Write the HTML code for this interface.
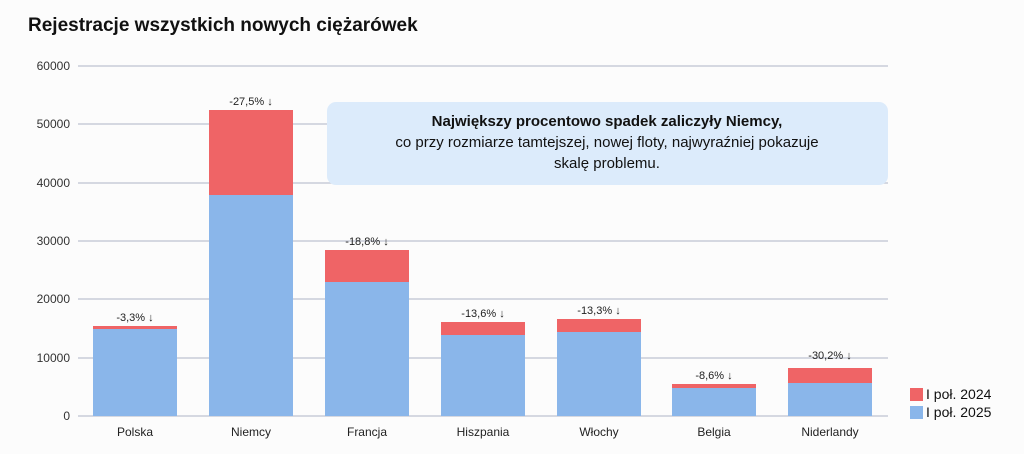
<!DOCTYPE html>
<html><head><meta charset="utf-8"><style>
body{margin:0;background:#fcfcfc;}
svg{display:block;font-family:"Liberation Sans",sans-serif;}
</style></head><body>
<svg width="1024" height="454" viewBox="0 0 1024 454">
<rect width="1024" height="454" fill="#fcfcfc"/>
<text x="28" y="31" font-size="19" font-weight="bold" fill="#111">Rejestracje wszystkich nowych ciężarówek</text>
<g stroke="#c8ccd8" stroke-width="1.5">
<line x1="78" y1="66" x2="888" y2="66"/><line x1="78" y1="124" x2="888" y2="124"/><line x1="78" y1="183" x2="888" y2="183"/><line x1="78" y1="241" x2="888" y2="241"/><line x1="78" y1="299" x2="888" y2="299"/><line x1="78" y1="358" x2="888" y2="358"/><line x1="78" y1="416" x2="888" y2="416"/>
</g>
<g font-size="12" fill="#333" text-anchor="end">
<text x="70" y="70">60000</text><text x="70" y="128">50000</text><text x="70" y="187">40000</text><text x="70" y="245">30000</text><text x="70" y="303">20000</text><text x="70" y="362">10000</text><text x="70" y="420">0</text>
</g>
<g>
<rect x="93" y="326" width="84" height="90" fill="#ef6466"/><rect x="93" y="329" width="84" height="87" fill="#8ab6ea"/>
<rect x="209" y="110" width="84" height="306" fill="#ef6466"/><rect x="209" y="195" width="84" height="221" fill="#8ab6ea"/>
<rect x="325" y="250" width="84" height="166" fill="#ef6466"/><rect x="325" y="282" width="84" height="134" fill="#8ab6ea"/>
<rect x="441" y="322" width="84" height="94" fill="#ef6466"/><rect x="441" y="335" width="84" height="81" fill="#8ab6ea"/>
<rect x="557" y="319" width="84" height="97" fill="#ef6466"/><rect x="557" y="332" width="84" height="84" fill="#8ab6ea"/>
<rect x="672" y="384" width="84" height="32" fill="#ef6466"/><rect x="672" y="388" width="84" height="28" fill="#8ab6ea"/>
<rect x="788" y="368" width="84" height="48" fill="#ef6466"/><rect x="788" y="383" width="84" height="33" fill="#8ab6ea"/>
</g>
<g font-size="11" fill="#222" text-anchor="middle">
<text x="135" y="321">-3,3% ↓</text><text x="251" y="105">-27,5% ↓</text><text x="367" y="245">-18,8% ↓</text><text x="483" y="317">-13,6% ↓</text><text x="599" y="314">-13,3% ↓</text><text x="714" y="379">-8,6% ↓</text><text x="830" y="359">-30,2% ↓</text>
</g>
<g font-size="12" fill="#222" text-anchor="middle">
<text x="135" y="436">Polska</text><text x="251" y="436">Niemcy</text><text x="367" y="436">Francja</text><text x="483" y="436">Hiszpania</text><text x="599" y="436">Włochy</text><text x="714" y="436">Belgia</text><text x="830" y="436">Niderlandy</text>
</g>
<rect x="327" y="102" width="561" height="83" rx="9" fill="#dcebfb"/>
<g text-anchor="middle" fill="#111" font-size="15">
<text x="607" y="126" font-weight="bold">Największy procentowo spadek zaliczyły Niemcy,</text>
<text x="607" y="147">co przy rozmiarze tamtejszej, nowej floty, najwyraźniej pokazuje</text>
<text x="607" y="168">skalę problemu.</text>
</g>
<rect x="910" y="388" width="13" height="13" fill="#ef6466"/>
<rect x="910" y="406" width="13" height="13" fill="#8ab6ea"/>
<g font-size="14" fill="#111"><text x="926" y="399">I poł. 2024</text><text x="926" y="417">I poł.  2025</text></g>
</svg>
</body></html>
